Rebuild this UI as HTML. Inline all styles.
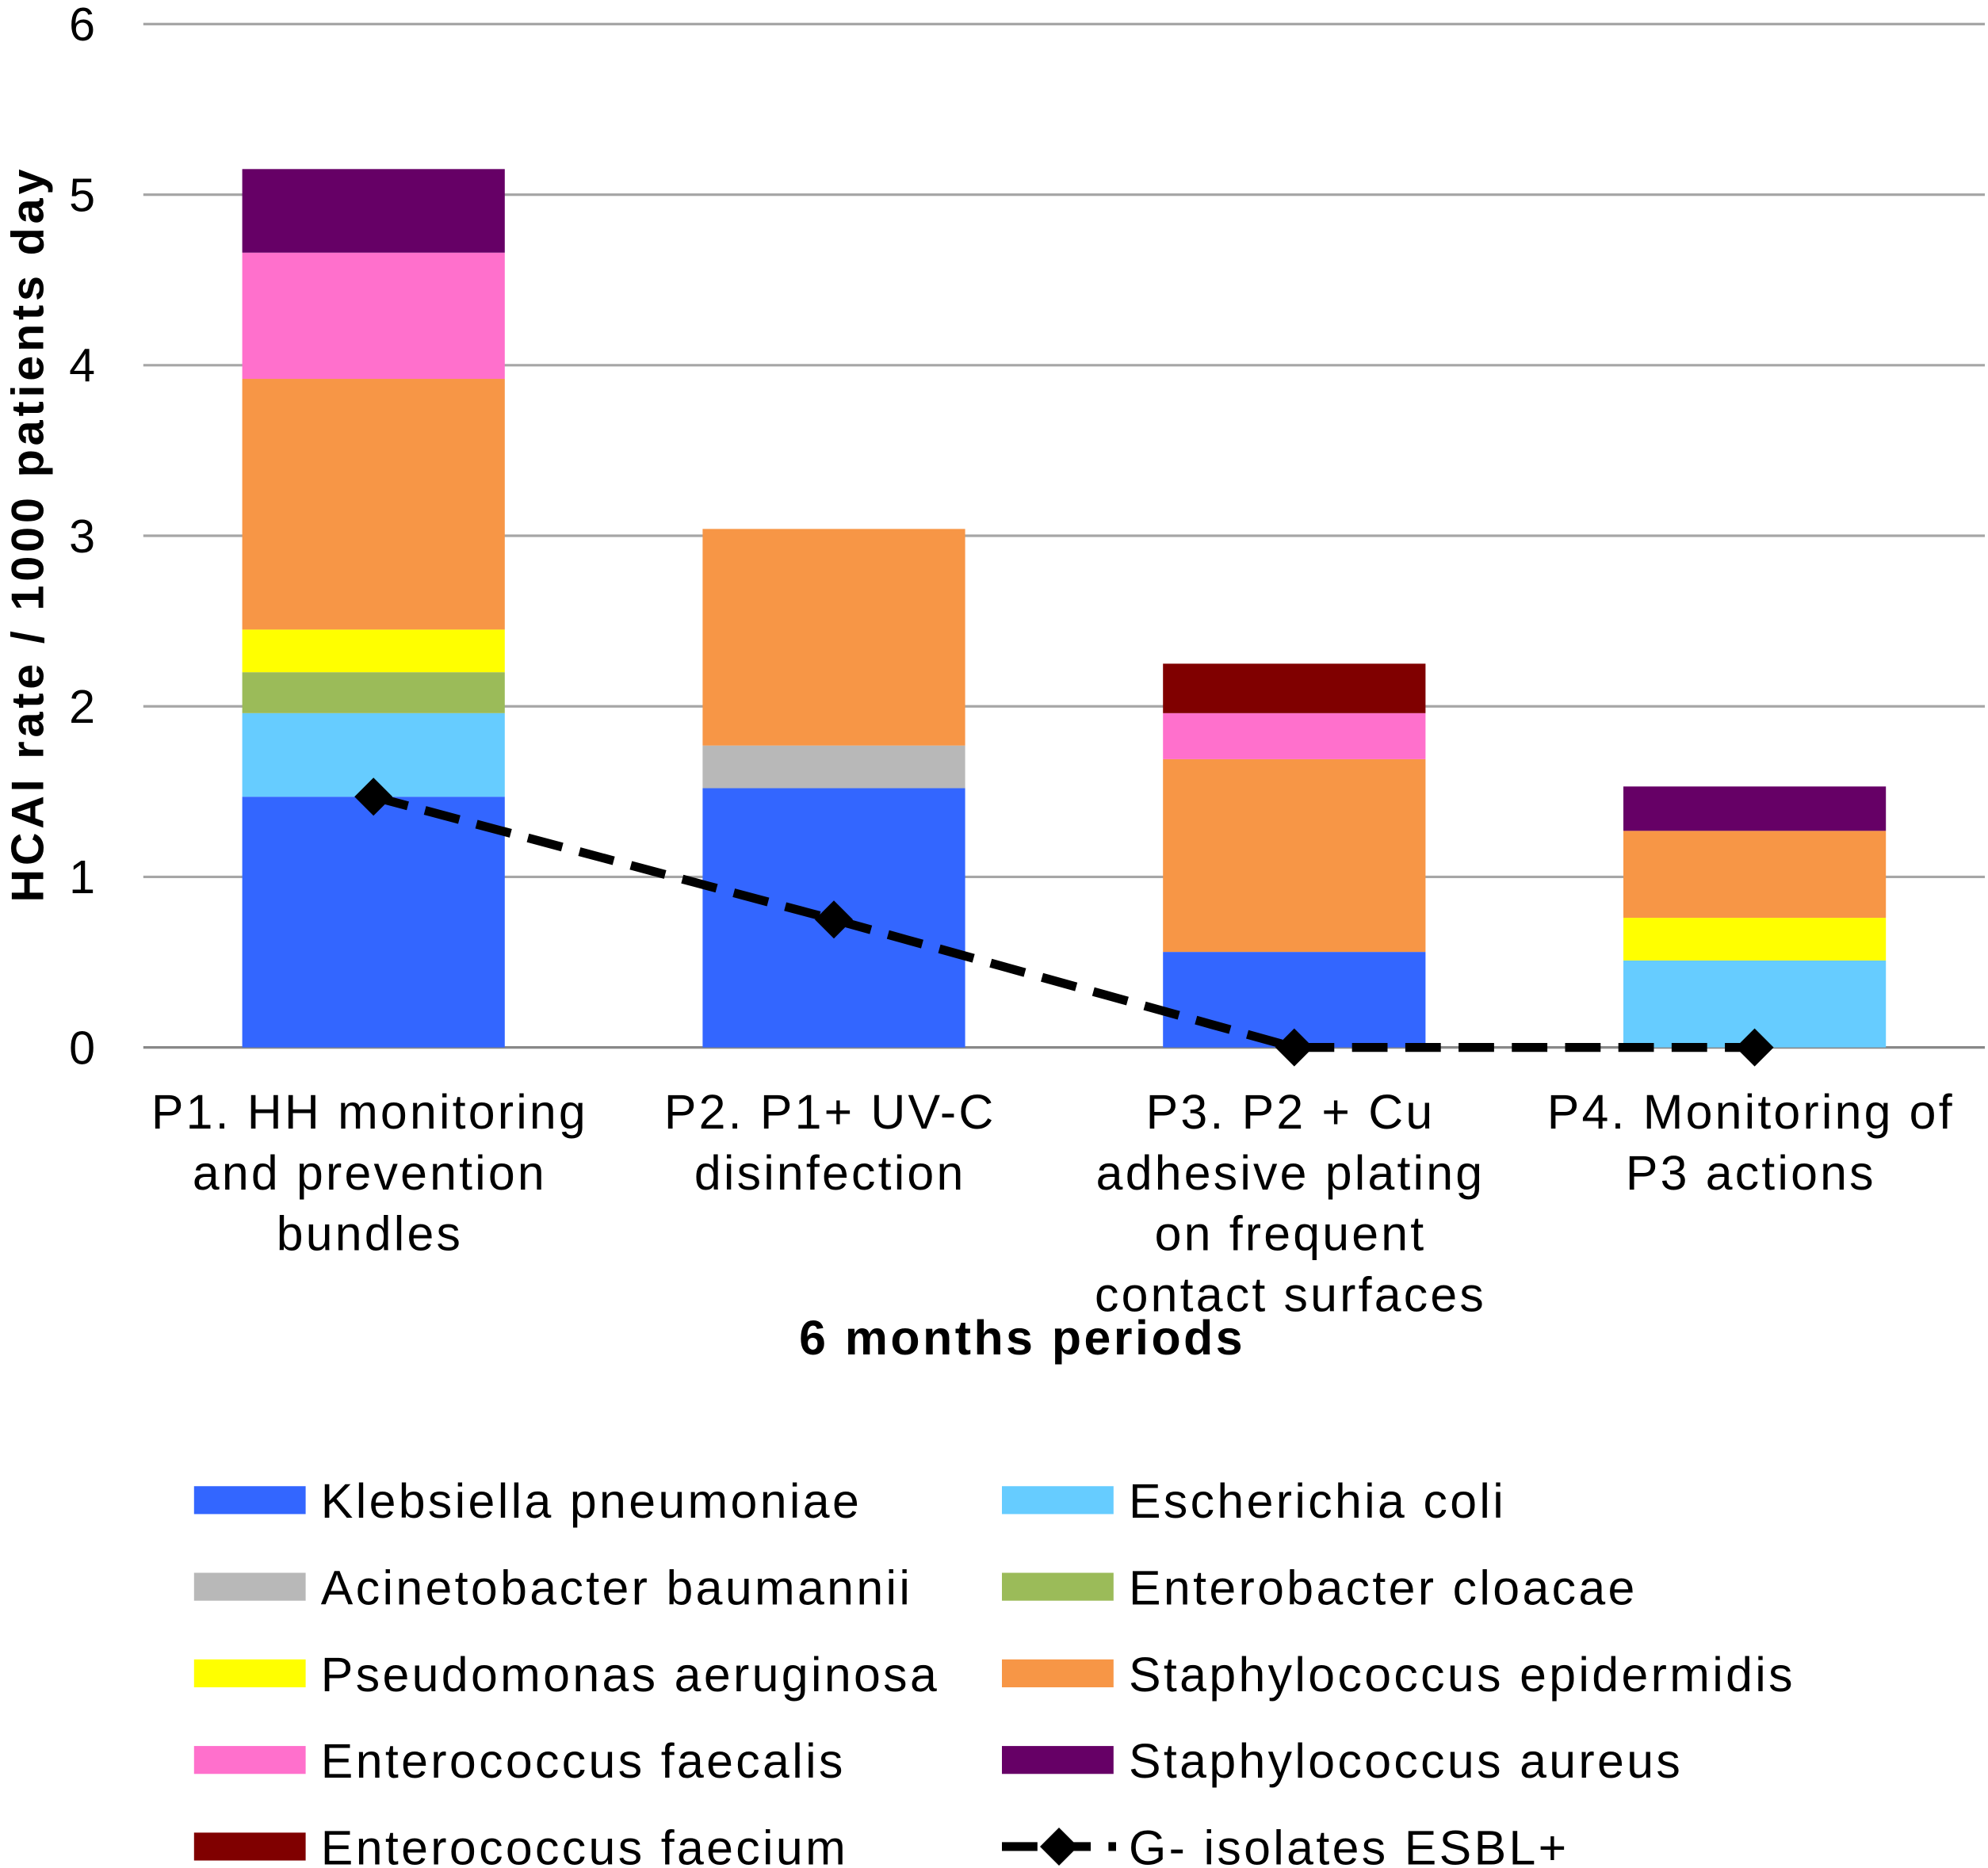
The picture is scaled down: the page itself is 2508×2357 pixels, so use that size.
<!DOCTYPE html>
<html><head><meta charset="utf-8"><style>
html,body{margin:0;padding:0;background:#fff;}
svg{display:block;font-family:"Liberation Sans",Arial,sans-serif;}
</style></head><body>
<svg id="chart" width="2508" height="2357" viewBox="0 0 1567.5 1473.1" preserveAspectRatio="none" xmlns="http://www.w3.org/2000/svg"></svg>
<script>
const categories = [["P1. HH monitoring","and prevention","bundles"],["P2. P1+ UV-C","disinfection"],["P3. P2 + Cu","adhesive plating","on frequent","contact surfaces"],["P4. Monitoring of","P3 actions"]];
const seriesNames = ["Klebsiella pneumoniae","Escherichia coli","Acinetobacter baumannii","Enterobacter cloacae","Pseudomonas aeruginosa","Staphylococcus epidermidis","Enterococcus faecalis","Staphylococcus aureus","Enterococcus faecium"];
const seriesColors = ["#3366ff","#66ccff","#b8b8b8","#9bbb59","#ffff00","#f79646","#ff70cc","#660066","#800000"];
const kleb = [1.47,1.52,0.56,0];
const ecoli = [0.49,0,0,0.51];
const acin = [0,0.25,0,0];
const ecloacae = [0.24,0,0,0];
const pseudo = [0.25,0,0,0.25];
const sepi = [1.47,1.27,1.13,0.51];
const efaecalis = [0.74,0,0.27,0];
const saureus = [0.49,0,0,0.26];
const efaecium = [0,0,0.29,0];
const esbl = [1.47,0.75,0,0];
const yTicks = [0,1,2,3,4,5,6];

const series=[kleb,ecoli,acin,ecloacae,pseudo,sepi,efaecalis,saureus,efaecium];
const NS="http://www.w3.org/2000/svg";
const svg=document.getElementById('chart');
const x0=113,x1=1565,y0=826,yTop=19,yMax=6;
const y=v=>y0-(v/yMax)*(y0-yTop);
const band=(x1-x0)/categories.length;
const xc=i=>x0+band*(i+0.5);
const bw=207;
function mk(t,a,p){const e=document.createElementNS(NS,t);for(const k in a)e.setAttribute(k,a[k]);(p||svg).appendChild(e);return e;}
yTicks.forEach(t=>{
  const l=mk('line',{x1:x0,x2:x1,y1:y(t),y2:y(t),stroke:t===0?'#888':'#a6a6a6','stroke-width':2});
  
  
  const tx=mk('text',{x:75,y:y(t)+13,'text-anchor':'end','font-size':37,fill:'#000'});
  tx.textContent=t;
  
  
});
categories.forEach((c,i)=>{
  let cum=0;
  series.forEach((s,k)=>{
    const v=s[i]; if(v<=0)return;
    const r=mk('rect',{x:xc(i)-bw/2,y:y(cum+v),width:bw,height:y(cum)-y(cum+v),fill:seriesColors[k]});
    
    
    cum+=v;
  });
  c.forEach((line,j)=>{
    const t=mk('text',{x:xc(i)-3,y:890+j*48,'text-anchor':'middle','font-size':38,'letter-spacing':2,fill:'#000'});
    t.textContent=line;
    
    
  });
});
const pts=esbl.map((v,i)=>[xc(i),y(v)]);
const pl=mk('polyline',{points:pts.map(p=>p.join(',')).join(' '),fill:'none',stroke:'#000','stroke-width':7,'stroke-dasharray':'28,14'});


pts.forEach(p=>{
  const d=mk('polygon',{points:`${p[0]},${p[1]-15} ${p[0]+15},${p[1]} ${p[0]},${p[1]+15} ${p[0]-15},${p[1]}`,fill:'#000'});
  
  
});
const yt=mk('text',{x:0,y:0,transform:'translate(34,421) rotate(-90)','text-anchor':'middle','font-size':36,'font-weight':'bold','letter-spacing':3});
yt.textContent='HCAI rate / 1000 patients day';


const xt=mk('text',{x:806,y:1068,'text-anchor':'middle','font-size':38,'font-weight':'bold','letter-spacing':2.2});
xt.textContent='6 months periods';


const legOrder=[0,1,2,3,4,5,6,7,8];
legOrder.forEach((k,n)=>{
  const col=n%2,row=Math.floor(n/2);
  const sx=col?790:153, cy=1183+row*68.3;
  const r=mk('rect',{x:sx,y:cy-11,width:88,height:22,fill:seriesColors[k]});
  
  
  const t=mk('text',{x:sx+100,y:cy+14,'font-size':38,'letter-spacing':2.1});
  t.textContent=seriesNames[k];
  
  
});
{
  const cy=1183+4*68.3;
  const l=mk('line',{x1:790,x2:880,y1:cy,y2:cy,stroke:'#000','stroke-width':7,'stroke-dasharray':'28,14'});
  
  
  const d=mk('polygon',{points:`835,${cy-15} 850,${cy} 835,${cy+15} 820,${cy}`,fill:'#000'});
  
  
  const t=mk('text',{x:890,y:cy+14,'font-size':38,'letter-spacing':2.1});
  t.textContent='G- isolates ESBL+';
  
  
}
</script>
</body></html>
